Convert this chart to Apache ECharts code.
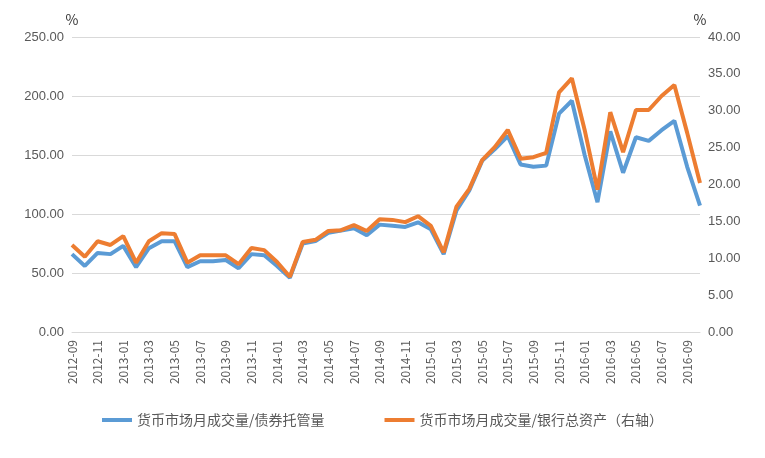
<!DOCTYPE html><html><head><meta charset="utf-8"><script src="https://cdn.jsdelivr.net/npm/echarts@6/dist/echarts.min.js"></script></head><body style="margin:0"><div id="c" style="width:765px;height:458px"></div><script>
const categories=[];for(let y=2012,m=9;!(y===2016&&m===11);){categories.push(y+'-'+String(m).padStart(2,'0'));m++;if(m>12){m=1;y++;}}
const seriesA=[66,56,67,66,73,55,71,77,77,55,60,60,61,54,66,65,56,46,75,77,84,86,88,82,91,90,89,93,87,66,103,120,145,155,166,142,140,141,185,196,150,110,170,135,165,162,171,179,140,107];
const seriesB=[11.8,10.2,12.3,11.8,13.0,9.4,12.3,13.4,13.3,9.4,10.4,10.4,10.4,9.2,11.4,11.1,9.5,7.5,12.2,12.5,13.7,13.8,14.5,13.7,15.3,15.2,14.9,15.7,14.4,10.8,17.0,19.4,23.3,25.1,27.4,23.5,23.7,24.3,32.5,34.4,27.4,19.3,29.8,24.4,30.1,30.1,32.0,33.5,27.0,20.2];
const names=['货币市场月成交量/债券托管量','货币市场月成交量/银行总资产（右轴）'];
const f="'Noto Sans CJK SC',sans-serif";
const ax={type:'value',nameGap:10,nameTextStyle:{color:'#333',fontSize:14,fontFamily:f},axisLabel:{color:'#595959',fontSize:13,formatter:v=>v.toFixed(2)},splitLine:{lineStyle:{color:'#d9d9d9'}},axisLine:{show:false},axisTick:{show:false}};
echarts.init(document.getElementById('c')).setOption({animation:false,
grid:{left:72,right:65,top:37,bottom:126},
legend:{bottom:26,itemGap:60,icon:'rect',itemWidth:30,itemHeight:4,textStyle:{color:'#595959',fontSize:14,fontFamily:f},data:names},
xAxis:{type:'category',boundaryGap:false,data:categories,axisLabel:{rotate:90,interval:1,color:'#595959',fontSize:12,fontFamily:f},axisTick:{show:false},axisLine:{lineStyle:{color:'#d9d9d9'}}},
yAxis:[Object.assign({},ax,{name:'%',min:0,max:250,interval:50,nameLocation:'end'}),Object.assign({},ax,{name:'%',min:0,max:40,interval:5,splitLine:{show:false}})],
series:[{name:names[0],type:'line',data:seriesA,symbol:'none',lineStyle:{width:4,color:'#5B9BD5'},itemStyle:{color:'#5B9BD5'}},
{name:names[1],type:'line',yAxisIndex:1,data:seriesB,symbol:'none',lineStyle:{width:4,color:'#ED7D31'},itemStyle:{color:'#ED7D31'}}]});
</script></body></html>
